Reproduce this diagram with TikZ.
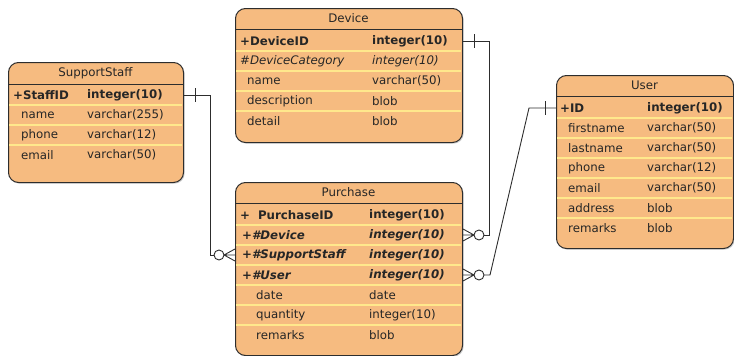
\documentclass[tikz,border=0pt]{standalone}
\usepackage{fontspec}
\setmainfont{DejaVu Sans}
\usetikzlibrary{shadows}

\definecolor{entityfill}{RGB}{246,187,128}
\definecolor{rowline}{RGB}{255,232,140}
\definecolor{edge}{RGB}{45,45,45}

\tikzset{
  entity/.style={draw=edge, line width=1pt, fill=entityfill, rounded corners=10pt,
    anchor=north west, inner sep=0pt,
    drop shadow={shadow xshift=1.2pt, shadow yshift=-1.2pt, opacity=.35}},
  title/.style={inner sep=0pt, text=black!85, font=\fontsize{11.8}{14}\selectfont},
  cell/.style={anchor=west, inner sep=0pt, text=black!85, font=\fontsize{11.8}{14}\selectfont},
  sep/.style={draw=rowline, line width=1.3pt},
  head/.style={draw=edge, line width=1pt},
  conn/.style={draw=edge, line width=0.9pt},
}

% one end: bar; many end: circle and crow's foot
\newcommand\onebar[2]{%
  \begin{scope}[shift={(#1)}, xscale=#2]
    \draw[conn] (11,-7) -- (11,7);
  \end{scope}}
\newcommand\crowfoot[2]{%
  \begin{scope}[shift={(#1)}, xscale=#2]
    \draw[conn] (0,-6) -- (-11,0) -- (0,6) (0,0) -- (-11,0);
    \draw[conn, fill=white] (-16,0) circle [radius=5pt];
  \end{scope}}

\begin{document}
\begin{tikzpicture}[x=1pt, y=-1pt]
  \useasboundingbox (0,0) rectangle (734,356);

  % entities
  \node[entity, minimum width=227pt, minimum height=134pt] (device) at (235,8) {};
  \node[entity, minimum width=175pt, minimum height=120pt] (staff) at (8,62) {};
  \node[entity, minimum width=177pt, minimum height=173pt] (user) at (556,75) {};
  \node[entity, minimum width=227pt, minimum height=173pt] (purchase) at (235,182) {};

  % header lines and row lines
  \draw[head] (235,29) -- (462,29);
  \draw[head] (8,84) -- (183,84);
  \draw[head] (556,96) -- (733,96);
  \draw[head] (235,203) -- (462,203);
  \foreach \y in {51,71,91,111} \draw[sep] (236,\y) -- (461,\y);
  \foreach \y in {105,125,145} \draw[sep] (9,\y) -- (182,\y);
  \foreach \y in {118,138,158,178,198,218} \draw[sep] (557,\y) -- (732,\y);
  \foreach \y in {225,245,265,285,305,325} \draw[sep] (236,\y) -- (461,\y);

  % Device
  \node[title] (devicename) at (348.5,18.5) {Device};
  \node[cell] (deviceid) at (240,41) {\textbf{+DeviceID}};
  \node[cell] (deviceidt) at (372,41) {\textbf{integer(10)}};
  \node[cell] (devicecat) at (240,61) {\textit{\#DeviceCategory}};
  \node[cell] (devicecatt) at (372,61) {\textit{integer(10)}};
  \node[cell] (dname) at (247,81) {name};
  \node[cell] (dnamet) at (372,81) {varchar(50)};
  \node[cell] (ddesc) at (247,101) {description};
  \node[cell] (ddesct) at (372,101) {blob};
  \node[cell] (ddetail) at (247,121) {detail};
  \node[cell] (ddetailt) at (372,121) {blob};

  % SupportStaff
  \node[title] (staffname) at (95.5,73) {SupportStaff};
  \node[cell] (staffid) at (13,95) {\textbf{+StaffID}};
  \node[cell] (staffidt) at (87,95) {\textbf{integer(10)}};
  \node[cell] (sname) at (21,115) {name};
  \node[cell] (snamet) at (87,115) {varchar(255)};
  \node[cell] (sphone) at (21,135) {phone};
  \node[cell] (sphonet) at (87,135) {varchar(12)};
  \node[cell] (semail) at (21,155) {email};
  \node[cell] (semailt) at (87,155) {varchar(50)};

  % User
  \node[title] (username) at (644.5,85.5) {User};
  \node[cell] (userid) at (560,108) {\textbf{+ID}};
  \node[cell] (useridt) at (647,108) {\textbf{integer(10)}};
  \node[cell] (ufirst) at (568,128) {firstname};
  \node[cell] (ufirstt) at (647,128) {varchar(50)};
  \node[cell] (ulast) at (568,148) {lastname};
  \node[cell] (ulastt) at (647,148) {varchar(50)};
  \node[cell] (uphone) at (568,168) {phone};
  \node[cell] (uphonet) at (647,168) {varchar(12)};
  \node[cell] (uemail) at (568,188) {email};
  \node[cell] (uemailt) at (647,188) {varchar(50)};
  \node[cell] (uaddr) at (568,208) {address};
  \node[cell] (uaddrt) at (647,208) {blob};
  \node[cell] (urem) at (568,228) {remarks};
  \node[cell] (uremt) at (647,228) {blob};

  % Purchase
  \node[title] (purchasename) at (348.5,192.5) {Purchase};
  \node[cell] (pid) at (240,215) {\textbf{+\hspace{8pt}PurchaseID}};
  \node[cell] (pidt) at (369,215) {\textbf{integer(10)}};
  \node[cell] (pdevice) at (242,235) {\textbf{\textit{+\#Device}}};
  \node[cell] (pdevicet) at (369,235) {\textbf{\textit{integer(10)}}};
  \node[cell] (pstaff) at (242,255) {\textbf{\textit{+\#SupportStaff}}};
  \node[cell] (pstafft) at (369,255) {\textbf{\textit{integer(10)}}};
  \node[cell] (puser) at (242,275) {\textbf{\textit{+\#User}}};
  \node[cell] (pusert) at (369,275) {\textbf{\textit{integer(10)}}};
  \node[cell] (pdate) at (256,295) {date};
  \node[cell] (pdatet) at (369,295) {date};
  \node[cell] (pqty) at (256,315) {quantity};
  \node[cell] (pqtyt) at (369,315) {integer(10)};
  \node[cell] (prem) at (256,335) {remarks};
  \node[cell] (premt) at (369,335) {blob};

  % relationships
  \draw[conn] (staff.east |- staffid) -- ++(26,0) |- ([xshift=-21pt]purchase.west |- pstaff);
  \onebar{staff.east |- staffid}{1}
  \crowfoot{purchase.west |- pstaff}{1}

  \draw[conn] (device.east |- deviceid) -- ++(26,0) |- ([xshift=21pt]purchase.east |- pdevice);
  \onebar{device.east |- deviceid}{1}
  \crowfoot{purchase.east |- pdevice}{-1}

  \draw[conn] (user.west |- userid) -- ++(-27,0) -- ([xshift=27pt]purchase.east |- puser)
    -- ([xshift=21pt]purchase.east |- puser);
  \onebar{user.west |- userid}{-1}
  \crowfoot{purchase.east |- puser}{-1}
\end{tikzpicture}
\end{document}
